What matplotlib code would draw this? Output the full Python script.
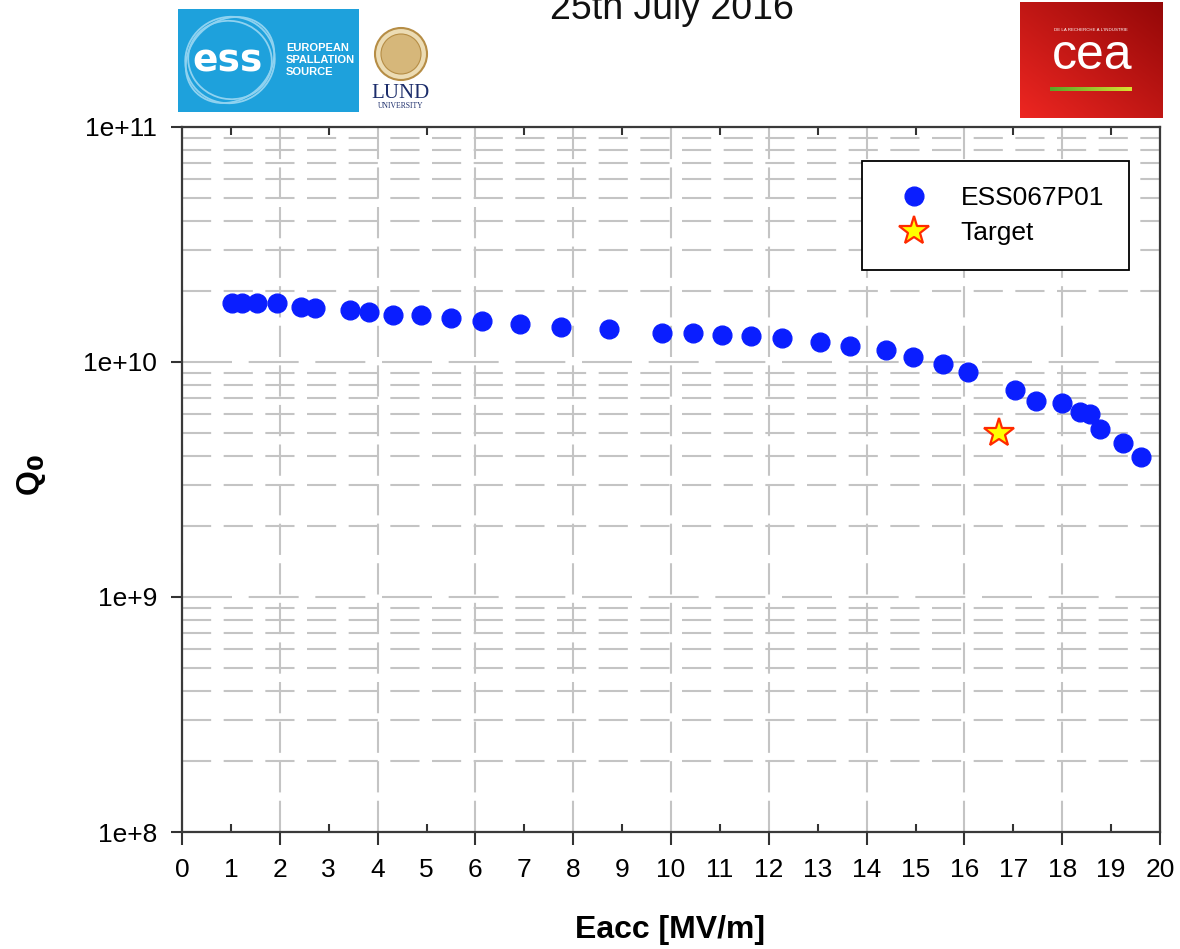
import matplotlib
matplotlib.use("Agg")
import matplotlib.pyplot as plt
import numpy as np
from matplotlib.patches import Rectangle, Circle, Ellipse
from matplotlib.ticker import FixedLocator, FuncFormatter, NullFormatter

plt.rcParams['font.family'] = ['Liberation Sans', 'DejaVu Sans']

eacc = [1.02, 1.22, 1.53, 1.94, 2.43, 2.73, 3.44, 3.83, 4.32, 4.88,
        5.51, 6.14, 6.92, 7.75, 8.74, 9.82, 10.44, 11.05, 11.64, 12.28,
        13.04, 13.67, 14.40, 14.95, 15.57, 16.08, 17.03, 17.46, 18.00, 18.36,
        18.57, 18.77, 19.24, 19.61]
q0 = [1.79e10, 1.79e10, 1.78e10, 1.79e10, 1.71e10, 1.70e10, 1.67e10, 1.63e10, 1.58e10, 1.58e10,
      1.54e10, 1.49e10, 1.45e10, 1.41e10, 1.38e10, 1.33e10, 1.33e10, 1.30e10, 1.29e10, 1.26e10,
      1.22e10, 1.17e10, 1.12e10, 1.05e10, 9.78e9, 9.09e9, 7.60e9, 6.84e9, 6.67e9, 6.15e9,
      6.01e9, 5.17e9, 4.51e9, 3.96e9]
target_eacc = [16.7]
target_q0 = [5.0e9]

series_label = "ESS067P01"
target_label = "Target"
x_ticks = list(range(0, 21))
y_decades = [1e8, 1e9, 1e10, 1e11]

W, H = 1180, 949
fig = plt.figure(figsize=(W / 100, H / 100), dpi=100)
ax = fig.add_axes([182 / W, 1 - 832 / H, 978 / W, 705 / H])

ax.plot(eacc, q0, 'o', color='#0a1eff', markersize=13.5, label=series_label, zorder=3)
ax.plot(target_eacc, target_q0, '*', markersize=22, markerfacecolor='#ffff00',
        markeredgecolor='#ff2a00', markeredgewidth=1.6, label=target_label, zorder=3)

ax.set_yscale('log')
ax.set_xlim(0, 20)
ax.set_ylim(1e8, 1e11)

# x ticks: labelled majors every 2 (outward), minors on odd numbers (inward)
ax.xaxis.set_major_locator(FixedLocator([t for t in x_ticks if t % 2 == 0]))
ax.xaxis.set_minor_locator(FixedLocator([t for t in x_ticks if t % 2 == 1]))
ax.xaxis.set_major_formatter(FuncFormatter(lambda v, p: f"{int(v)}"))
ax.xaxis.set_minor_formatter(FuncFormatter(lambda v, p: f"{int(v)}"))
ax.tick_params(axis='x', which='major', direction='out', length=9, width=1.5,
               labelsize=19, pad=10, color='#333333')
ax.tick_params(axis='x', which='minor', direction='in', length=6, width=1.5,
               labelsize=19, pad=19, top=True, color='#333333')

ax.yaxis.set_major_locator(FixedLocator(y_decades))
ax.yaxis.set_major_formatter(FuncFormatter(lambda v, p: f"1e+{int(round(np.log10(v)))}"))
minor_y = [m * d for d in y_decades[:-1] for m in range(2, 10)]
ax.yaxis.set_minor_locator(FixedLocator(minor_y))
ax.yaxis.set_minor_formatter(NullFormatter())
ax.tick_params(axis='y', which='major', direction='out', length=8, width=1.5,
               labelsize=19, pad=10, color='#333333')
ax.tick_params(axis='y', which='minor', length=0)

for s in ax.spines.values():
    s.set_linewidth(1.6)
    s.set_color('#3a3a3a')

gc = '#c4c4c4'
ax.grid(axis='x', which='major', color=gc, linewidth=1.5, linestyle=(0, (15, 4)))
ax.grid(axis='y', which='major', color=gc, linewidth=1.5, linestyle=(0, (24, 8)))
ax.grid(axis='y', which='minor', color=gc, linewidth=1.5, linestyle=(0, (14, 6)))
ax.set_axisbelow(True)

leg = ax.legend(loc='upper left', bbox_to_anchor=(0.695, 0.952), fontsize=19,
                frameon=True, fancybox=False, edgecolor='black', framealpha=1,
                borderpad=0.95, handletextpad=0.7, handlelength=2.1, labelspacing=0.42,
                borderaxespad=0)
leg.get_frame().set_linewidth(1.3)

fig.text(670 / W, 1 - 930 / H, "Eacc [MV/m]", ha='center', va='center',
         fontsize=23, fontweight='bold')
fig.text(32 / W, 1 - 475 / H, "Q$_\\mathbf{0}$", ha='center', va='center',
         rotation=90, fontsize=23, fontweight='bold')

# title, clipped at the top edge as in the original
fig.text(672 / W, 1 - 19 / H, "25th July 2016", ha='center', va='baseline',
         fontsize=27, color='#111111')

# ESS logo
ess = fig.add_axes([178 / W, 1 - 112 / H, 181 / W, 103 / H])
ess.set_xlim(0, 181)
ess.set_ylim(0, 103)
ess.axis('off')
ess.add_patch(Rectangle((0, 0), 181, 103, color='#1ea1dc'))
for w, h, ang in [(90, 86, 20), (84, 78, -15), (94, 80, 40)]:
    ess.add_patch(Ellipse((52, 52), w, h, angle=ang, fill=False,
                          edgecolor='#8fd2f0', linewidth=1.3))
ess.text(50, 50, "ess", color='white', fontsize=27, fontweight='bold',
         fontfamily='DejaVu Sans', ha='center', va='center')
ess.text(108, 52, "EUROPEAN\nSPALLATION\nSOURCE", color='white', fontsize=8,
         fontweight='bold', ha='left', va='center', linespacing=1.3)

# Lund University logo
lund = fig.add_axes([370 / W, 1 - 112 / H, 62 / W, 90 / H])
lund.set_xlim(0, 62)
lund.set_ylim(0, 90)
lund.axis('off')
lund.set_aspect('equal')
lund.add_patch(Circle((31, 58), 26, facecolor='#ecdcb4', edgecolor='#b68d45', linewidth=1.5))
lund.add_patch(Circle((31, 58), 20, facecolor='#d6b77a', edgecolor='#b68d45', linewidth=0.8))
lund.text(31, 19, "LUND", fontfamily='Liberation Serif', fontsize=15,
          color='#1c2d6b', ha='center', va='center')
lund.text(31, 6, "UNIVERSITY", fontfamily='Liberation Serif', fontsize=5.5,
          color='#1c2d6b', ha='center', va='center')

# CEA logo
cea = fig.add_axes([1020 / W, 1 - 118 / H, 143 / W, 116 / H])
cea.axis('off')
gx, gy = np.meshgrid(np.linspace(0, 1, 100), np.linspace(0, 1, 100))
g = (gx + (1 - gy)) / 2
red = np.dstack([0.93 - 0.35 * g, 0.15 - 0.12 * g, 0.13 - 0.1 * g])
cea.imshow(red, extent=(0, 143, 0, 116), aspect='auto')
cea.set_xlim(0, 143)
cea.set_ylim(0, 116)
cea.text(72, 62, "cea", color='white', fontsize=36, fontweight='light',
         ha='center', va='center')
cea.text(71, 88, "DE LA RECHERCHE À L'INDUSTRIE", color='white', fontsize=3.2,
         ha='center', va='center')
bar = np.dstack([np.linspace(0.35, 0.85, 50), np.linspace(0.65, 0.88, 50),
                 np.linspace(0.15, 0.2, 50)])
cea.imshow(bar, extent=(30, 112, 27, 31), aspect='auto')

fig.savefig("out.png", dpi=100)
